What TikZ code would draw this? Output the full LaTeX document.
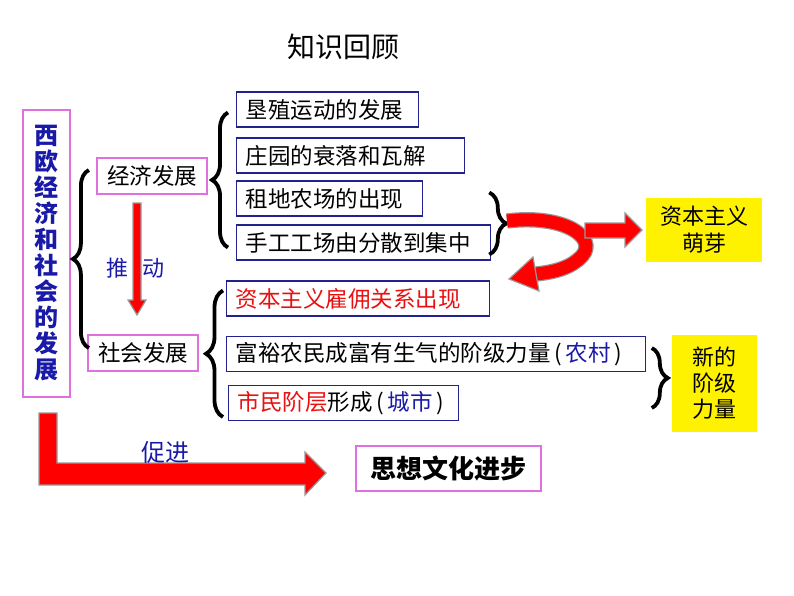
\documentclass[tikz,border=0pt]{standalone}
\usepackage{fontspec}
\setmainfont{Noto Sans CJK SC}
\usepackage{tikz}
\usetikzlibrary{positioning, calc, decorations.pathreplacing}
\definecolor{kblue}{HTML}{1A1AA8}
\definecolor{kpink}{HTML}{E070E0}
\definecolor{knavy}{HTML}{22228E}
\definecolor{kred}{HTML}{E81010}

\begin{document}
\begin{tikzpicture}[x=1pt, y=-1pt,
      topbox/.style={draw=kpink, line width=2.2pt, fill=white, inner sep=0pt, font=\fontsize{22.5}{26}\selectfont},
      item/.style={draw=knavy, line width=1.3pt, fill=white, anchor=west, inner xsep=9pt, inner ysep=0pt, minimum height=35pt, text width=#1, font=\fontsize{22.5}{26}\selectfont},
      note/.style={fill=yellow, align=center, inner sep=0pt, font=\fontsize{22}{27}\selectfont},
      curly/.style={decorate, decoration={brace, amplitude=#1}, line width=3.8pt},
      fatarrow/.style={fill=red, draw=gray!80, line width=1.2pt},
      label/.style={text=kblue, font=\fontsize{22}{26}\selectfont}
    ]
      \useasboundingbox (0,0) rectangle (794,596);
      \node (title) at (343,47) {\fontsize{28}{32}\selectfont 知识回顾};

      % main boxes
      \node[topbox, minimum width=47pt, minimum height=287pt, align=center, text=kblue,
            font=\fontsize{24}{26}\selectfont\bfseries] (root) at (46.5,253.5)
            {西\\欧\\经\\济\\和\\社\\会\\的\\发\\展};
      \node[topbox, minimum width=110pt, minimum height=36pt] (econ) at (152,176) {经济发展};
      \node[topbox, minimum width=110pt, minimum height=36pt] (soc) at (143,353) {社会发展};
      \node[topbox, minimum width=185pt, minimum height=45pt, font=\fontsize{26}{30}\selectfont\bfseries] (culture) at (448.5,468.5) {思想文化进步};

      % economy
      \node[item=164pt] (e1) at (236,109.5) {垦殖运动的发展};
      \node[item=210pt] (e2) at (236,155.5) {庄园的衰落和瓦解};
      \node[item=168pt] (e3) at (236,198.5) {租地农场的出现};
      \node[item=236pt] (e4) at (236,242.5) {手工工场由分散到集中};

      % society
      \node[item=245pt, text=kred] (s1) at (226,298.5) {资本主义雇佣关系出现};
      \node[item=401pt] (s2) at (226,354) {富裕农民成富有生气的阶级力量\,(\,{\color{kblue}农村}\,)};
      \node[item=212pt] (s3) at (228,403) {{\color{kred}市民阶层}形成\,(\,{\color{kblue}城市}\,)};

      \node[note, minimum width=116pt, minimum height=64pt] (sprout) at (704,230) {资本主义\\萌芽};
      \node[note, minimum width=85pt, minimum height=97pt, font=\fontsize{22}{26}\selectfont] (newcls) at (714.5,383.5) {新的\\阶级\\力量};

      % braces
      \draw[curly=16pt] ($(soc.west)+(2,-5)$) -- ($(econ.west)+(-7,-6)$);
      \draw[curly=16pt] ($(e4.west)+(-8,5)$) -- ($(e1.west)+(-8,3)$);
      \draw[curly=17pt] ($(s3.west)+(-5,14)$) -- ($(s1.west)+(-3,-8)$);
      \draw[curly=17pt] ($(e4.east)+(-2,-50)$) -- ($(e4.east)+(-2,12)$);
      \draw[curly=16pt] ($(newcls.west)+(-20,-35.5)$) -- ($(newcls.west)+(-20,24.5)$);

      % block arrows
      \filldraw[fatarrow] (133,203) -- (141,203) -- (141,300) -- (146,300) -- (137,315) -- (128,300) -- (133,300) -- cycle;
      \node[label] (push1) at (117,268) {推};
      \node[label] (push2) at (153,268) {动};

      \filldraw[fatarrow] (39,413) -- (57,413) -- (57,463) -- (305,463) -- (305,452) -- (326,473) -- (305,495) -- (305,485) -- (39,485) -- cycle;
      \node[label, font=\fontsize{24}{28}\selectfont] (promote) at (165,452) {促进};

      \draw[draw=gray!80, double=red, double distance=13pt, line width=1.2pt]
        (507,221) .. controls (565,214) and (598,238) .. (582,256) .. controls (572,267) and (556,272) .. (536,274);
      \filldraw[fatarrow] (533,257) -- (539,291) -- (509,279) -- cycle;
      \filldraw[fatarrow] (585,223) -- (625,223) -- (625,213) -- (642,230) -- (625,247) -- (625,238) -- (585,238) -- cycle;
    \end{tikzpicture}
\end{document}
